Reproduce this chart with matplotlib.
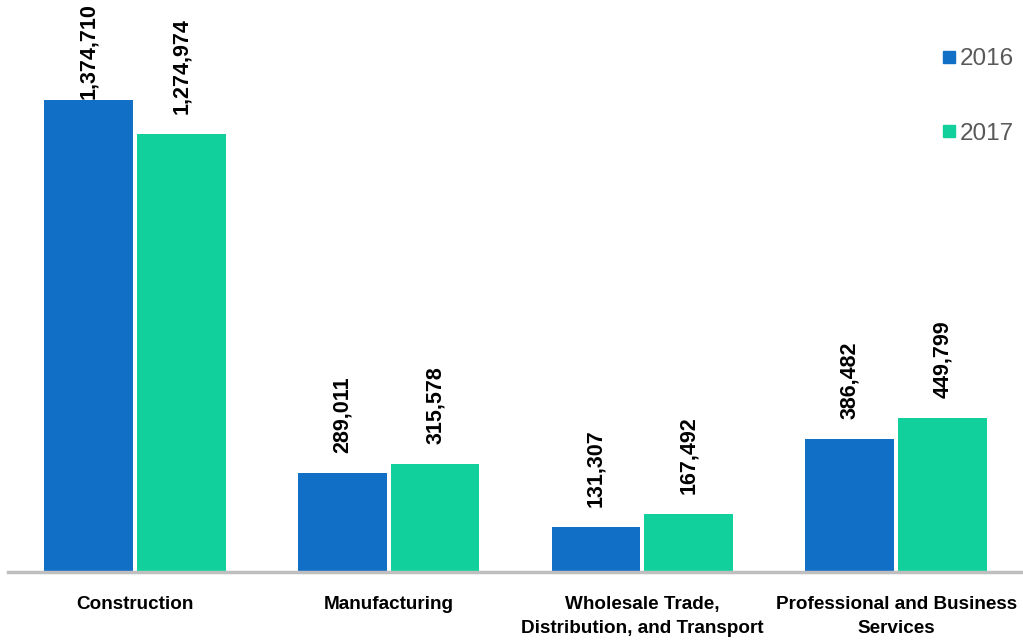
import numpy as np
import matplotlib.pyplot as plt
from matplotlib.lines import Line2D

# Datos
categories = ['Construction', 'Manufacturing', 'Wholesale Trade,\nDistribution, and Transport',
              'Professional and Business\nServices']
years = ['2016', '2017']
values_2016 = [1374710, 289011, 131307, 386482]
values_2017 = [1274974, 315578, 167492, 449799]

colors = ['#116FC6', '#12D09C']
font = ['Liberation Sans', 'DejaVu Sans']

fig = plt.figure(figsize=(10.23, 6.42), dpi=100)
ax = fig.add_axes([8 / 1023, 70 / 642, 1015 / 1023, 572 / 642])

x = np.arange(len(categories))
w = 0.35
off = 0.183
ymax = 1666000
ax.set_xlim(-0.5, 3.5)
ax.set_ylim(0, ymax)

px = ymax / 572  # valor por pixel
for vals, dx, col in [(values_2016, -off, colors[0]), (values_2017, off, colors[1])]:
    ax.bar(x + dx, vals, width=w, color=col, zorder=2)
    for xi, v in zip(x + dx, vals):
        if v + 20 * px + 100 * px > ymax:
            ax.text(xi, ymax - 3 * px, f'{v:,}', rotation=90, ha='center', va='top',
                    fontsize=15.5, fontweight='bold', family=font, zorder=3)
        else:
            ax.text(xi, v + 20 * px, f'{v:,}', rotation=90, ha='center', va='bottom',
                    fontsize=15.5, fontweight='bold', family=font, zorder=3)

ax.set_xticks(x)
ax.set_xticklabels(categories, fontsize=13.6, fontweight='bold', family=font, linespacing=1.6)
ax.tick_params(axis='x', length=0, pad=17)
ax.set_yticks([])
for s in ['top', 'right', 'left']:
    ax.spines[s].set_visible(False)
ax.spines['bottom'].set_color('#BFBFBF')
ax.spines['bottom'].set_linewidth(2.5)

handles = [Line2D([], [], marker='s', linestyle='none', markersize=9, color=c) for c in colors]
leg = ax.legend(handles, years, loc='upper right', bbox_to_anchor=(1.008, 0.945), frameon=False,
                prop={'family': font, 'size': 17.5}, labelspacing=2.15, handletextpad=0.05,
                handlelength=0.8, borderaxespad=0.3)
for t in leg.get_texts():
    t.set_color('#595959')

fig.savefig('out.png', dpi=100)
